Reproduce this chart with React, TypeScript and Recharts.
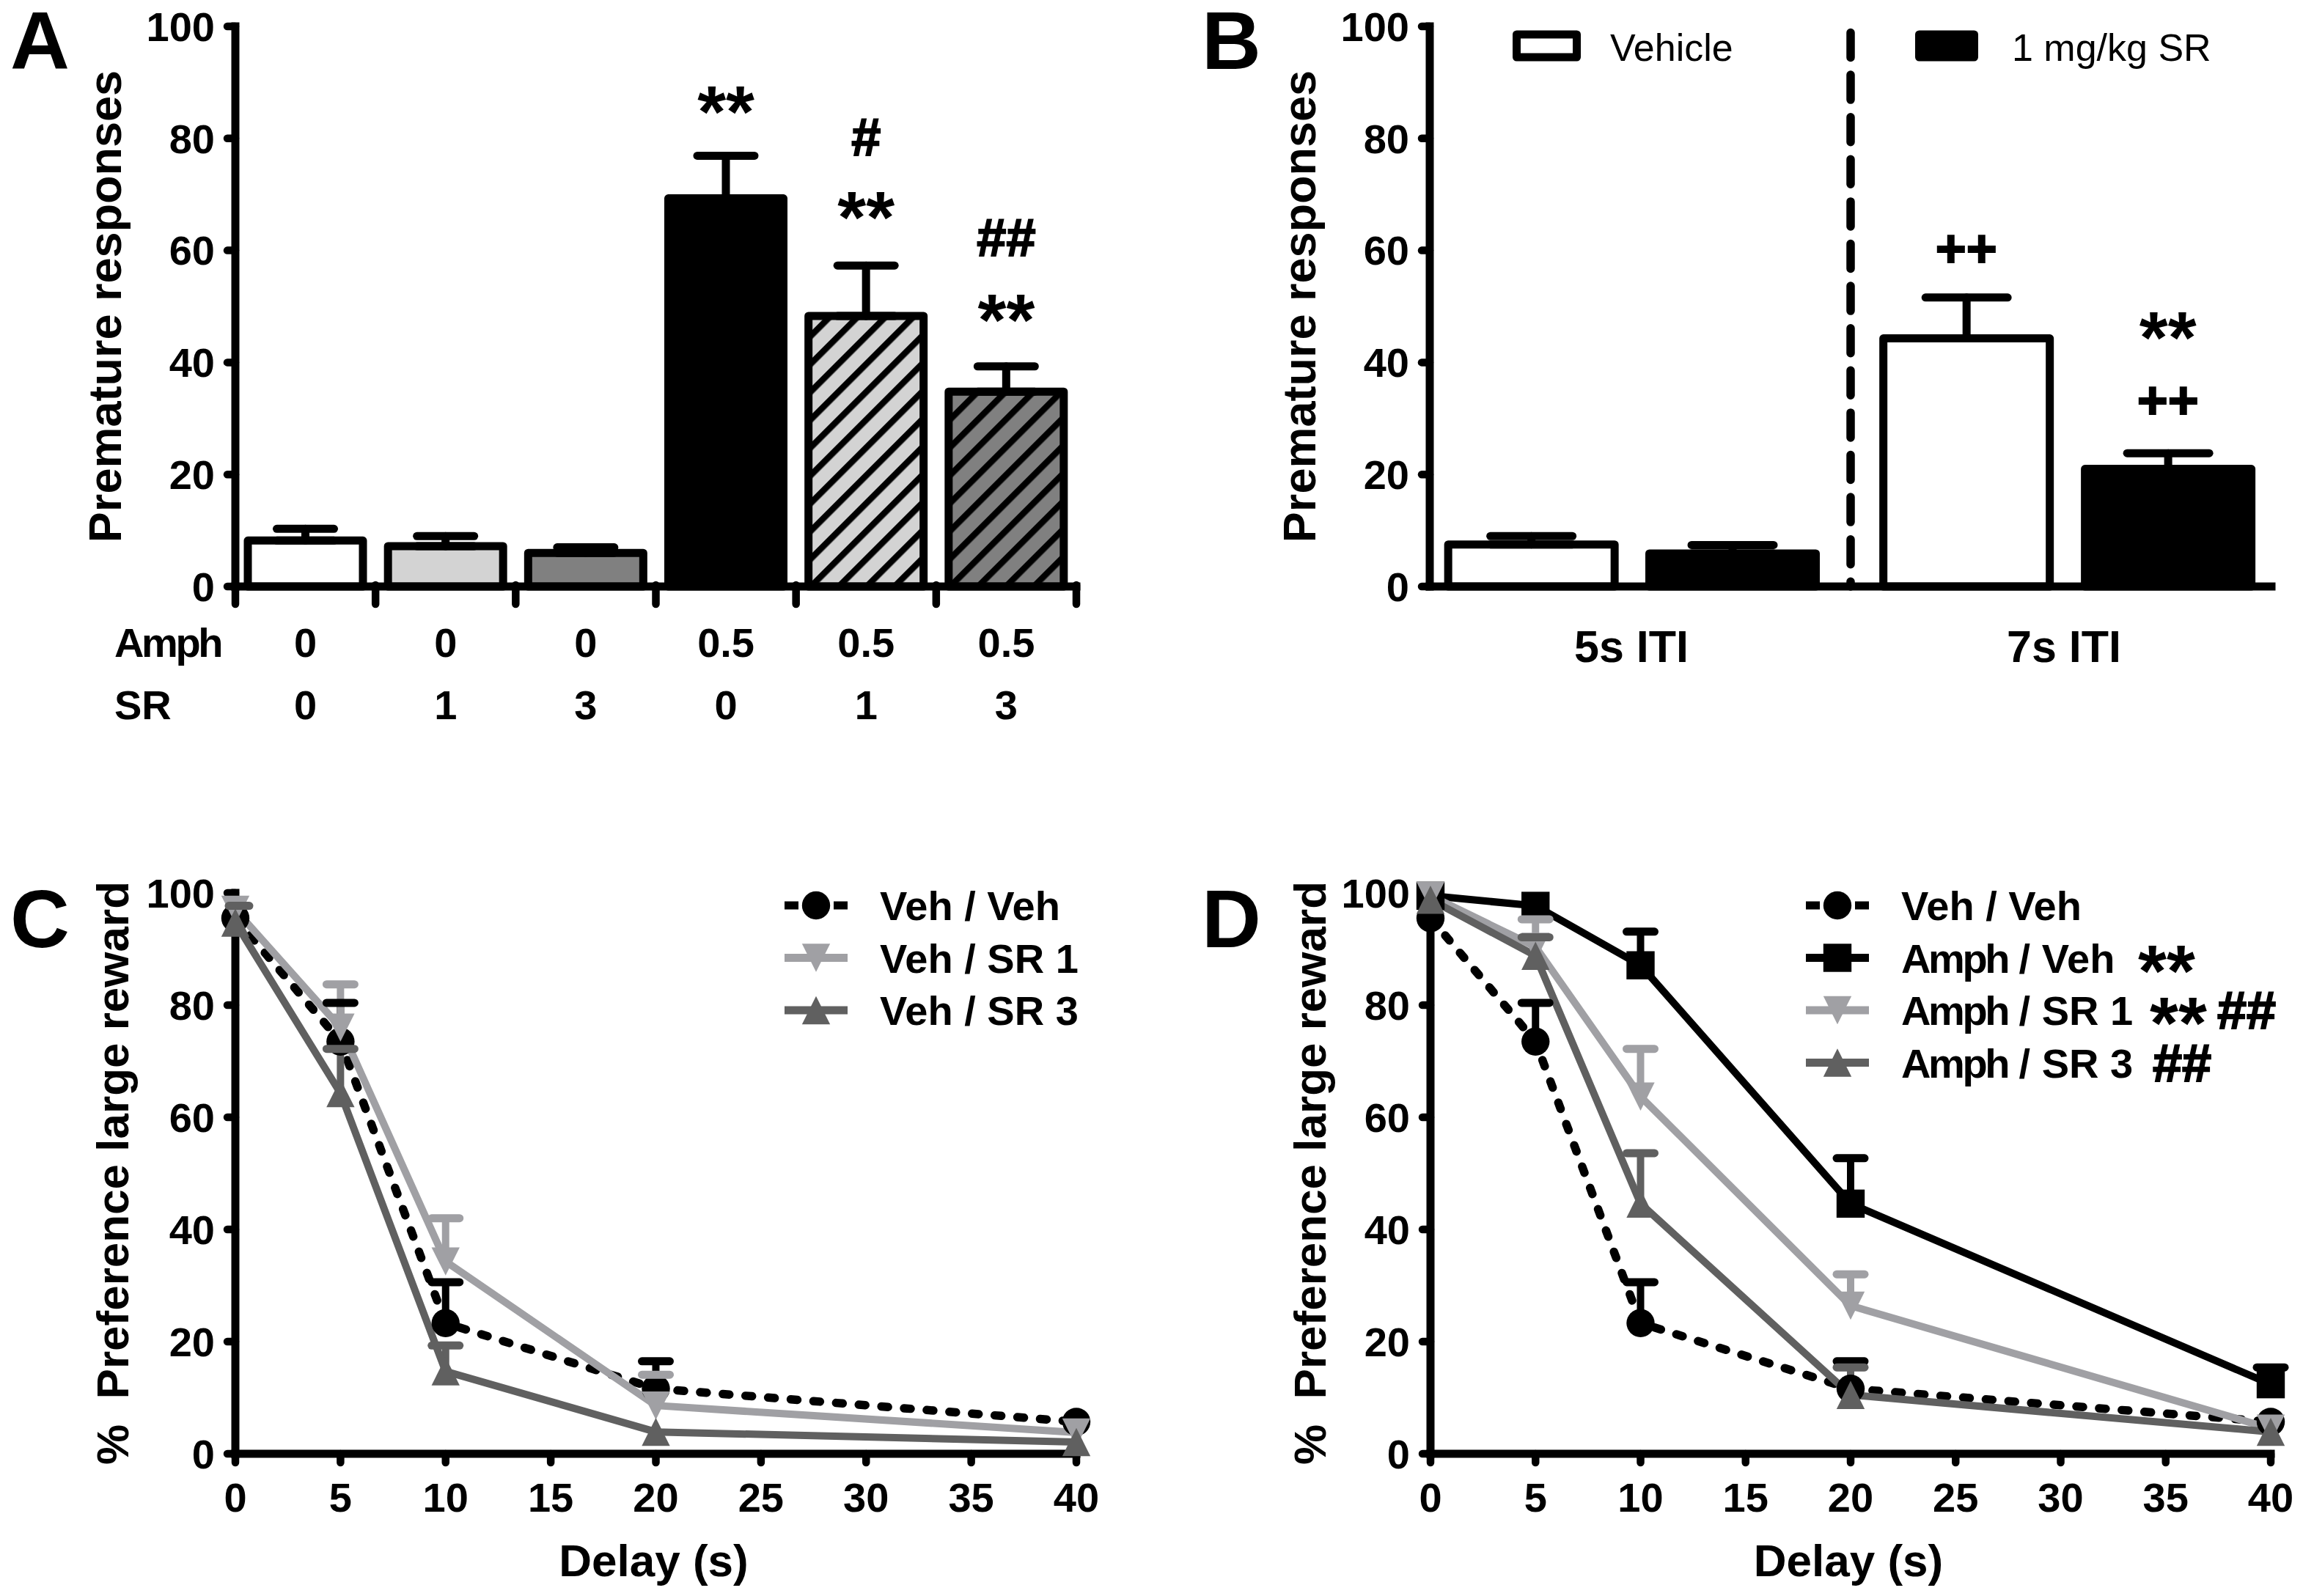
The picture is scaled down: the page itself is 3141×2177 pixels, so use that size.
import React from 'react';
import {
  BarChart, Bar, Cell, LineChart, Line, XAxis, YAxis, ErrorBar, ReferenceDot, ReferenceLine, Legend, Label,
} from 'recharts';

const FONT = '"Liberation Sans", Arial, sans-serif';
const W = 3141;
const H = 2177;

// Panel A
const amphDoses = ['0', '0', '0', '0.5', '0.5', '0.5'];
const srDoses = ['0', '1', '3', '0', '1', '3'];
const premA = [8.2, 7.2, 6.0, 69.3, 48.3, 34.8];
const premAUpper = [10.3, 9.0, 7.0, 76.9, 57.3, 39.3];
const fillsA = ['#ffffff', '#d3d3d3', '#808080', '#000000', 'url(#hatchLight)', 'url(#hatchDark)'];
const marksA = [
  { i: 3, y: 80.3, text: '**', size: 100 },
  { i: 4, y: 76.9, text: '#', size: 72 },
  { i: 4, y: 61.4, text: '**', size: 100 },
  { i: 5, y: 59, text: '##', size: 72 },
  { i: 5, y: 43.1, text: '**', size: 100 },
];

// Panel B
const barSlots = [0.241, 0.719, 1.275, 1.754];
const vehicleB = [7.5, null, 44.3, null];
const vehicleBUpper = [9.0, null, 51.6, null];
const srB = [null, 5.9, null, 21.0];
const srBUpper = [null, 7.4, null, 23.8];
const itiLabels = ['5s ITI', '7s ITI'];
const itiCentres = [0.479, 1.507];
const marksB = [
  { x: 1.275, y: 57.1, text: '++', size: 72 },
  { x: 1.754, y: 39.9, text: '**', size: 100 },
  { x: 1.754, y: 30, text: '++', size: 72 },
];

// Panels C and D
const delays = [0, 5, 10, 20, 40];
const vehVeh = [95.5, 73.5, 23.3, 11.6, 5.7];
const vehVehUpper = [null, 80.4, 30.6, 16.5, null];
const vehSr1 = [97, 76, 34.3, 8.6, 3.8];
const vehSr1Upper = [null, 83.7, 42, 14.1, null];
const vehSr3 = [94.7, 64.3, 14.7, 3.9, 2.1];
const vehSr3Upper = [97.7, 72.2, 19.3, null, null];
const amphVeh = [99.5, 97.7, 87.1, 44.6, 12.4];
const amphVehUpper = [null, null, 93.1, 52.7, 15.4];
const amphSr1 = [99.5, 90.4, 63.7, 26.4, 4.5];
const amphSr1Upper = [null, 95.3, 72.2, 32, null];
const amphSr3 = [98.8, 88.8, 44.6, 10.5, 3.9];
const amphSr3Upper = [null, 92.1, 53.6, 15.4, null];

const yTicks = [0, 20, 40, 60, 80, 100];
const delayTicks = [0, 5, 10, 15, 20, 25, 30, 35, 40];

const BLACK = '#000000';
const LIGHT = '#a0a0a4';
const DARK = '#606060';

const seriesC = [
  { key: 'vv', name: 'Veh / Veh', mean: vehVeh, upper: vehVehUpper, color: BLACK, marker: 'circle', dashed: true },
  { key: 'v1', name: 'Veh / SR 1', mean: vehSr1, upper: vehSr1Upper, color: LIGHT, marker: 'down', dashed: false },
  { key: 'v3', name: 'Veh / SR 3', mean: vehSr3, upper: vehSr3Upper, color: DARK, marker: 'up', dashed: false },
];
const seriesD = [
  { key: 'vv', name: 'Veh / Veh', mean: vehVeh, upper: vehVehUpper, color: BLACK, marker: 'circle', dashed: true },
  { key: 'av', name: 'Amph / Veh', mean: amphVeh, upper: amphVehUpper, color: BLACK, marker: 'square', dashed: false },
  { key: 'a1', name: 'Amph / SR 1', mean: amphSr1, upper: amphSr1Upper, color: LIGHT, marker: 'down', dashed: false },
  { key: 'a3', name: 'Amph / SR 3', mean: amphSr3, upper: amphSr3Upper, color: DARK, marker: 'up', dashed: false },
];
const legendMarks: Record<string, { text: string; x: number }[]> = {
  'Amph / Veh': [{ text: '**', x: 453 }],
  'Amph / SR 1': [{ text: '**', x: 469 }, { text: '##', x: 561 }],
  'Amph / SR 3': [{ text: '##', x: 473 }],
};

const rowsA = amphDoses.map((amph, i) => ({ id: i, amph, sr: srDoses[i], value: premA[i], upper: premAUpper[i] }));
const rowsB = barSlots.map((slot, i) => ({
  slot, vehicle: vehicleB[i], vehicleUpper: vehicleBUpper[i], sr: srB[i], srUpper: srBUpper[i],
}));
const buildRows = (series: typeof seriesC) =>
  delays.map((delay, i) => {
    const r: any = { delay };
    series.forEach((s) => {
      r[s.key] = s.mean[i];
      r[s.key + 'Up'] = s.upper[i];
    });
    return r;
  });

const textBase = { fontFamily: FONT, fill: BLACK };
const boldTick = { ...textBase, fontSize: 56, fontWeight: 700 };
const axisStroke = { stroke: BLACK, strokeWidth: 11, strokeLinecap: 'square' as const };
const tickStroke = { stroke: BLACK, strokeWidth: 10.5, strokeLinecap: 'round' as const };
// Liberation's # and + are lighter than the reference's, so they get a thin outline.
const heavy = (text: string) => (text === '**' ? {} : { stroke: BLACK, strokeWidth: 2 });

const markerShape = (kind: string, cx: number, cy: number, color: string) => {
  const r = 19.2;
  if (kind === 'circle') return <circle cx={cx} cy={cy} r={r} fill={color} />;
  if (kind === 'square') return <rect x={cx - r} y={cy - r} width={2 * r} height={2 * r} fill={color} />;
  if (kind === 'down') return <polygon points={`${cx - r},${cy - r} ${cx + r},${cy - r} ${cx},${cy + r}`} fill={color} />;
  return <polygon points={`${cx - r},${cy + r} ${cx + r},${cy + r} ${cx},${cy - r}`} fill={color} />;
};

const panelLetter = (text: string, x: number, y: number) => (
  <text x={x} y={y} fontSize={112} fontWeight={700} {...textBase}>{text}</text>
);

const yTitle = (text: string, x: number, y: number, size: number) => (
  <Label
    content={() => (
      <text
        transform={`translate(${x},${y}) rotate(-90)`}
        textAnchor="middle"
        fontSize={size}
        fontWeight={700}
        {...textBase}
      >
        {text}
      </text>
    )}
  />
);

const markShape = (text: string, size: number) => (p: any) => (
  <text x={p.cx} y={p.cy} textAnchor="middle" fontSize={size} fontWeight={700} {...textBase} {...heavy(text)}>{text}</text>
);

function PanelA() {
  const band = (1468 - 321) / 6;
  const Tick = (p: any) => {
    const i = p.index;
    return (
      <g>
        {i === 0 && <line x1={p.x - band / 2} x2={p.x - band / 2} y1={p.y - 10} y2={824} {...tickStroke} />}
        <line x1={p.x + band / 2} x2={p.x + band / 2} y1={p.y - 10} y2={824} {...tickStroke} />
        <text x={p.x} y={896} textAnchor="middle" {...boldTick}>{amphDoses[i]}</text>
        <text x={p.x} y={981} textAnchor="middle" {...boldTick}>{srDoses[i]}</text>
        {i === 0 && (
          <>
            <text x={156} y={896} {...boldTick} letterSpacing={-3.4}>Amph</text>
            <text x={156} y={981} {...boldTick}>SR</text>
          </>
        )}
      </g>
    );
  };
  return (
    <div style={{ position: 'absolute', left: 0, top: 0, width: W, height: H }}>
      <BarChart
        width={W}
        height={H}
        data={rowsA}
        margin={{ top: 36, left: 0, right: W - 1468, bottom: H - 800 - 200 }}
        barSize={157}
      >
        <defs>
          <pattern id="hatchLight" width={26.87} height={26.87} patternUnits="userSpaceOnUse" patternTransform="rotate(45)">
            <rect width={26.87} height={26.87} fill="#d3d3d3" />
            <rect width={8.5} height={26.87} fill="#000" />
          </pattern>
          <pattern id="hatchDark" width={26.87} height={26.87} patternUnits="userSpaceOnUse" patternTransform="rotate(45)">
            <rect width={26.87} height={26.87} fill="#808080" />
            <rect width={8.5} height={26.87} fill="#000" />
          </pattern>
        </defs>
        <XAxis dataKey="id" type="category" height={200} tickLine={false} axisLine={axisStroke} tick={<Tick />} interval={0} />
        <YAxis
          width={321}
          domain={[0, 100]}
          ticks={yTicks}
          interval={0}
          tickSize={11}
          tickMargin={17}
          tick={boldTick}
          tickLine={tickStroke}
          axisLine={axisStroke}
        >
          {yTitle('Premature responses', 165, 418, 63)}
        </YAxis>
        <Bar dataKey="value" stroke={BLACK} strokeWidth={11} strokeLinejoin="round" isAnimationActive={false}>
          {fillsA.map((f, i) => <Cell key={i} fill={f} />)}
          <ErrorBar
            dataKey={(d: any) => [0, d.upper - d.value]}
            width={39}
            stroke={BLACK}
            strokeWidth={11}
            strokeLinecap="round"
            isAnimationActive={false}
          />
        </Bar>
        {marksA.map((m, k) => (
          <ReferenceDot key={k} x={m.i} y={m.y} r={0} shape={markShape(m.text, m.size)} />
        ))}
        {panelLetter('A', 14, 94)}
      </BarChart>
    </div>
  );
}

function PanelB() {
  const Legendish = () => (
    <svg width={W - 2060} height={70} style={{ display: 'block', overflow: 'visible' }}>
      <rect x={8.5} y={11} width={82} height={31} fill="#fff" stroke={BLACK} strokeWidth={11} strokeLinejoin="round" />
      <text x={136} y={47} fontSize={52} {...textBase}>Vehicle</text>
      <rect x={557.5} y={11} width={75} height={31} fill={BLACK} stroke={BLACK} strokeWidth={11} strokeLinejoin="round" />
      <text x={684} y={47} fontSize={52} {...textBase}>1 mg/kg SR</text>
    </svg>
  );
  return (
    <div style={{ position: 'absolute', left: 0, top: 0, width: W, height: H }}>
      <BarChart
        width={W}
        height={H}
        data={rowsB}
        margin={{ top: 36, left: 1950 - 321, right: W - 3098, bottom: H - 800 - 130 }}
        barSize={227}
      >
        <XAxis
          xAxisId="bands"
          dataKey="slot"
          type="number"
          domain={[0, 2]}
          ticks={[0, 1, 2]}
          height={30}
          tick={false}
          tickSize={24}
          tickLine={tickStroke}
          axisLine={axisStroke}
        />
        <XAxis
          xAxisId="labels"
          type="number"
          dataKey="slot"
          domain={[0, 2]}
          ticks={itiCentres}
          height={100}
          tickLine={false}
          axisLine={false}
          tickMargin={24}
          tick={{ ...boldTick, fontSize: 61 }}
          tickFormatter={(v: number) => itiLabels[itiCentres.indexOf(v)]}
        />
        <YAxis
          width={321}
          domain={[0, 100]}
          ticks={yTicks}
          interval={0}
          tickSize={11}
          tickMargin={17}
          tick={boldTick}
          tickLine={tickStroke}
          axisLine={axisStroke}
        >
          {yTitle('Premature responses', 1794, 418, 63)}
        </YAxis>
        <ReferenceLine
          xAxisId="bands"
          x={1}
          stroke={BLACK}
          strokeWidth={11.5}
          strokeLinecap="round"
          strokeDasharray="34 23.6"
          strokeDashoffset={-30.3}
        />
        <Bar xAxisId="bands" dataKey="vehicle" name="Vehicle" stackId="s" fill="#fff" stroke={BLACK} strokeWidth={11} strokeLinejoin="round" isAnimationActive={false}>
          <ErrorBar
            dataKey={(d: any) => (d.vehicle == null ? undefined : [0, d.vehicleUpper - d.vehicle])}
            width={56}
            stroke={BLACK}
            strokeWidth={11}
            strokeLinecap="round"
            isAnimationActive={false}
          />
        </Bar>
        <Bar xAxisId="bands" dataKey="sr" name="1 mg/kg SR" stackId="s" fill={BLACK} stroke={BLACK} strokeWidth={11} strokeLinejoin="round" isAnimationActive={false}>
          <ErrorBar
            dataKey={(d: any) => (d.sr == null ? undefined : [0, d.srUpper - d.sr])}
            width={56}
            stroke={BLACK}
            strokeWidth={11}
            strokeLinecap="round"
            isAnimationActive={false}
          />
        </Bar>
        {marksB.map((m, k) => (
          <ReferenceDot key={k} xAxisId="bands" x={m.x} y={m.y} r={0} shape={markShape(m.text, m.size)} />
        ))}
        <Legend
          layout="vertical"
          align="center"
          verticalAlign="middle"
          content={<Legendish />}
          wrapperStyle={{ left: 2060, top: 36, width: 1080, height: 70 }}
        />
        {panelLetter('B', 1639, 94)}
      </BarChart>
    </div>
  );
}

function LinesPanel({
  series, letter, letterX, axisX, endX, titleX, legendX,
}: {
  series: typeof seriesC; letter: string; letterX: number; axisX: number; endX: number; titleX: number; legendX: number;
}) {
  const rows = buildRows(series);
  const yTop = 1218;
  const yBottom = 1983;
  const LegendBody = (p: any) => {
    const entries = (p.payload || []).filter((e: any) => series.some((q) => q.name === e.value));
    return (
      <svg width={700} height={series.length * 72 + 10} style={{ display: 'block', overflow: 'visible' }}>
        {entries.map((e: any, i: number) => {
          const s = series.find((q) => q.name === e.value)!;
          const y = 30 + i * 71.5;
          const parts = e.value.split(' / ');
          return (
            <g key={s.key}>
              <line x1={0} x2={86} y1={y} y2={y} stroke={s.color} strokeWidth={11} strokeDasharray={s.dashed ? '19 48 19' : undefined} />
              {markerShape(s.marker, 43, y, s.color)}
              <text x={130} y={y + 20} fontSize={56} fontWeight={700} {...textBase}>
                <tspan letterSpacing={parts[0] === 'Amph' ? -3.4 : 0}>{parts[0]}</tspan>
                <tspan>{' / ' + parts[1]}</tspan>
              </text>
              {(legendMarks[e.value] || []).map((m) => (
                <text
                  key={m.x}
                  x={m.x}
                  y={y + (m.text === '**' ? 52 : 25)}
                  fontSize={m.text === '**' ? 100 : 72}
                  fontWeight={700}
                  {...textBase}
                  {...heavy(m.text)}
                >
                  {m.text}
                </text>
              ))}
            </g>
          );
        })}
      </svg>
    );
  };
  return (
    <div style={{ position: 'absolute', left: 0, top: 0, width: W, height: H }}>
      <LineChart
        width={W}
        height={H}
        data={rows}
        margin={{ top: yTop, left: axisX - 321, right: W - endX, bottom: H - yBottom - 170 }}
      >
        <XAxis
          dataKey="delay"
          type="number"
          domain={[0, 40]}
          ticks={delayTicks}
          interval={0}
          height={170}
          tickSize={12}
          tickMargin={27}
          tick={boldTick}
          tickLine={tickStroke}
          axisLine={axisStroke}
        >
          <Label
            content={() => (
              <text x={(axisX + endX) / 2 - 3} y={2150} textAnchor="middle" fontSize={62} fontWeight={700} {...textBase}>
                Delay (s)
              </text>
            )}
          />
        </XAxis>
        <YAxis
          width={321}
          domain={[0, 100]}
          ticks={yTicks}
          interval={0}
          tickSize={11}
          tickMargin={17}
          tick={boldTick}
          tickLine={tickStroke}
          axisLine={axisStroke}
        >
          {yTitle('%\u00A0\u00A0Preference large reward', titleX, 1600, 62)}
        </YAxis>
        {series.flatMap((s) => [
          <Line
            key={s.key}
            dataKey={s.key}
            name={s.name}
            type="linear"
            stroke={s.color}
            strokeWidth={s.dashed ? 11.5 : 10}
            strokeLinecap={s.dashed ? 'round' : 'butt'}
            strokeDasharray={s.dashed ? '9 22' : undefined}
            isAnimationActive={false}
            activeDot={false}
            dot={(p: any) => <g key={p.index}>{p.cy != null && markerShape(s.marker, p.cx, p.cy, s.color)}</g>}
          >
            <ErrorBar
              dataKey={(d: any) => (d[s.key + 'Up'] == null ? undefined : [0, d[s.key + 'Up'] - d[s.key]])}
              width={0}
              stroke={s.color}
              strokeWidth={10}
              isAnimationActive={false}
            />
          </Line>,
          <Line
            key={s.key + 'Up'}
            dataKey={s.key + 'Up'}
            type="linear"
            stroke="none"
            legendType="none"
            isAnimationActive={false}
            activeDot={false}
            dot={(p: any) => (
              <g key={p.index}>
                {p.cy != null && (
                  <line
                    x1={Math.max(p.cx - 19, axisX - 9)}
                    x2={p.cx + 19}
                    y1={p.cy}
                    y2={p.cy}
                    stroke={s.color}
                    strokeWidth={11}
                    strokeLinecap="round"
                  />
                )}
              </g>
            )}
          />,
        ])}
        <Legend
          layout="vertical"
          align="center"
          verticalAlign="middle"
          itemSorter={null as any}
          content={<LegendBody />}
          wrapperStyle={{ left: legendX, top: 1205, width: 700, height: 320 }}
        />
        {panelLetter(letter, letterX, 1292)}
      </LineChart>
    </div>
  );
}

export default function App() {
  return (
    <div style={{ position: 'absolute', left: 0, top: 0, width: W, height: H, overflow: 'hidden', background: '#fff' }}>
      <PanelA />
      <PanelB />
      <LinesPanel series={seriesC} letter="C" letterX={14} axisX={321} endX={1468} titleX={175} legendX={1070} />
      <LinesPanel series={seriesD} letter="D" letterX={1639} axisX={1951} endX={3097} titleX={1808} legendX={2463} />
    </div>
  );
}
